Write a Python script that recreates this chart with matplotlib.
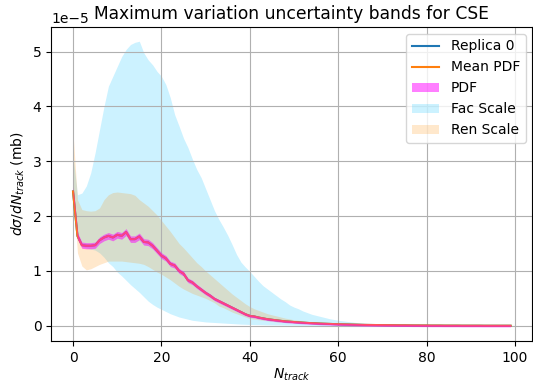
import numpy as np
import matplotlib
matplotlib.use("Agg")
import matplotlib.pyplot as plt

# values, in units of 1e-5 mb
n_track = list(range(100))

mean_pdf = [
    2.45, 1.64, 1.47, 1.46, 1.46, 1.47, 1.56, 1.61, 1.64, 1.61,
    1.66, 1.64, 1.71, 1.58, 1.58, 1.63, 1.53, 1.52, 1.46, 1.37,
    1.28, 1.23, 1.13, 1.10, 1.00, 0.95, 0.83, 0.79, 0.72, 0.66,
    0.60, 0.55, 0.49, 0.45, 0.41, 0.37, 0.33, 0.29, 0.25, 0.21,
    0.18, 0.17, 0.15, 0.135, 0.12, 0.11, 0.10, 0.09, 0.08, 0.075,
    0.068, 0.062, 0.057, 0.052, 0.048, 0.044, 0.040, 0.037, 0.034, 0.031,
    0.028, 0.026, 0.024, 0.022, 0.020, 0.018, 0.016, 0.015, 0.014, 0.013,
    0.012, 0.011, 0.010, 0.009, 0.008, 0.008, 0.007, 0.006, 0.006, 0.005,
    0.005, 0.004, 0.004, 0.004, 0.003, 0.003, 0.003, 0.003, 0.002, 0.002,
    0.002, 0.002, 0.002, 0.001, 0.001, 0.001, 0.001, 0.001, 0.001, 0.001,
]
replica_0 = mean_pdf

fac_upper = [
    3.10, 2.39, 2.42, 2.55, 2.79, 3.16, 3.58, 4.00, 4.37, 4.55,
    4.73, 4.91, 5.04, 5.13, 5.17, 5.19, 4.98, 4.85, 4.76, 4.64,
    4.55, 4.40, 4.16, 3.85, 3.64, 3.42, 3.25, 3.04, 2.85, 2.70,
    2.50, 2.30, 2.10, 1.94, 1.80, 1.65, 1.48, 1.30, 1.16, 1.07,
    0.99, 0.90, 0.81, 0.73, 0.67, 0.61, 0.55, 0.49, 0.44, 0.38,
    0.34, 0.31, 0.27, 0.24, 0.21, 0.19, 0.17, 0.15, 0.13, 0.115,
    0.10, 0.09, 0.08, 0.07, 0.06, 0.05, 0.045, 0.04, 0.035, 0.03,
    0.026, 0.023, 0.020, 0.018, 0.016, 0.014, 0.012, 0.011, 0.010, 0.009,
    0.008, 0.007, 0.007, 0.006, 0.006, 0.005, 0.005, 0.004, 0.004, 0.004,
    0.003, 0.003, 0.003, 0.003, 0.002, 0.002, 0.002, 0.002, 0.002, 0.002,
]
fac_lower = [
    2.30, 1.70, 1.45, 1.42, 1.40, 1.38, 1.33, 1.25, 1.15, 1.08,
    0.98, 0.91, 0.83, 0.75, 0.68, 0.61, 0.53, 0.45, 0.39, 0.34,
    0.30, 0.26, 0.22, 0.19, 0.16, 0.14, 0.12, 0.10, 0.09, 0.08,
    0.07, 0.065, 0.06, 0.055, 0.05, 0.045, 0.04, 0.035, 0.03, 0.027,
    0.024, 0.022, 0.020, 0.018, 0.016, 0.015, 0.014, 0.013, 0.012, 0.011,
    0.010, 0.009, 0.008, 0.008, 0.007, 0.007, 0.006, 0.006, 0.005, 0.005,
    0.005, 0.004, 0.004, 0.004, 0.003, 0.003, 0.003, 0.003, 0.002, 0.002,
    0.002, 0.002, 0.002, 0.002, 0.002, 0.001, 0.001, 0.001, 0.001, 0.001,
    0.001, 0.001, 0.001, 0.001, 0.001, 0.001, 0.001, 0.001, 0.001, 0.001,
    0.001, 0.001, 0.001, 0.0, 0.0, 0.0, 0.0, 0.0, 0.0, 0.0,
]

ren_upper = [
    3.52, 2.30, 2.12, 2.10, 2.09, 2.10, 2.15, 2.30, 2.39, 2.43,
    2.44, 2.43, 2.42, 2.41, 2.38, 2.30, 2.24, 2.18, 2.10, 2.02,
    1.92, 1.82, 1.72, 1.61, 1.50, 1.42, 1.33, 1.24, 1.15, 1.08,
    1.00, 0.93, 0.86, 0.79, 0.72, 0.65, 0.58, 0.52, 0.46, 0.40,
    0.35, 0.31, 0.28, 0.25, 0.22, 0.20, 0.18, 0.16, 0.14, 0.125,
    0.11, 0.10, 0.09, 0.08, 0.072, 0.065, 0.058, 0.052, 0.047, 0.043,
    0.039, 0.035, 0.032, 0.029, 0.026, 0.024, 0.022, 0.020, 0.018, 0.016,
    0.015, 0.014, 0.013, 0.012, 0.011, 0.010, 0.009, 0.008, 0.008, 0.007,
    0.007, 0.006, 0.006, 0.005, 0.005, 0.005, 0.004, 0.004, 0.004, 0.003,
    0.003, 0.003, 0.003, 0.002, 0.002, 0.002, 0.002, 0.002, 0.002, 0.002,
]
ren_lower = [
    2.40, 1.33, 1.09, 1.02, 1.04, 1.08, 1.12, 1.15, 1.18, 1.18,
    1.18, 1.18, 1.17, 1.16, 1.15, 1.14, 1.12, 1.08, 1.03, 0.98,
    0.94, 0.89, 0.84, 0.78, 0.72, 0.67, 0.63, 0.59, 0.56, 0.53,
    0.50, 0.46, 0.42, 0.36, 0.33, 0.29, 0.25, 0.22, 0.19, 0.16,
    0.13, 0.12, 0.11, 0.10, 0.09, 0.08, 0.07, 0.065, 0.06, 0.055,
    0.05, 0.046, 0.042, 0.038, 0.035, 0.032, 0.029, 0.027, 0.025, 0.023,
    0.021, 0.019, 0.018, 0.016, 0.015, 0.014, 0.013, 0.012, 0.011, 0.010,
    0.009, 0.009, 0.008, 0.007, 0.007, 0.006, 0.006, 0.005, 0.005, 0.004,
    0.004, 0.004, 0.003, 0.003, 0.003, 0.003, 0.002, 0.002, 0.002, 0.002,
    0.002, 0.001, 0.001, 0.001, 0.001, 0.001, 0.001, 0.001, 0.001, 0.001,
]

# PDF band: relative part plus a small floor
pdf_rel_unc = 0.025
pdf_abs_unc = 0.02
unit = 1e-5

x = np.array(n_track)
mean = np.array(mean_pdf) * unit
rep = np.array(replica_0) * unit
pdf_half = (np.array(mean_pdf) * pdf_rel_unc + pdf_abs_unc) * unit

fig, ax = plt.subplots(figsize=(5.33, 3.85), dpi=100)
fig.subplots_adjust(left=0.096, right=0.999, top=0.93, bottom=0.114)

ax.plot(x, rep, color="tab:blue", label="Replica 0")
ax.plot(x, mean, color="tab:orange", label="Mean PDF")
ax.fill_between(x, mean - pdf_half, mean + pdf_half,
                color="magenta", alpha=0.5, lw=0, label="PDF", zorder=3)
ax.fill_between(x, np.array(fac_lower) * unit, np.array(fac_upper) * unit,
                color="deepskyblue", alpha=0.2, lw=0, label="Fac Scale")
ax.fill_between(x, np.array(ren_lower) * unit, np.array(ren_upper) * unit,
                color="darkorange", alpha=0.2, lw=0, label="Ren Scale")

ax.grid(True)
ax.set_title("Maximum variation uncertainty bands for CSE", fontsize=12.3)
ax.set_xlabel(r"$N_{track}$", labelpad=1)
ax.set_ylabel(r"$d\sigma/dN_{track}$ (mb)")
ax.legend(loc="upper right")

fig.savefig("out.png", dpi=100)
